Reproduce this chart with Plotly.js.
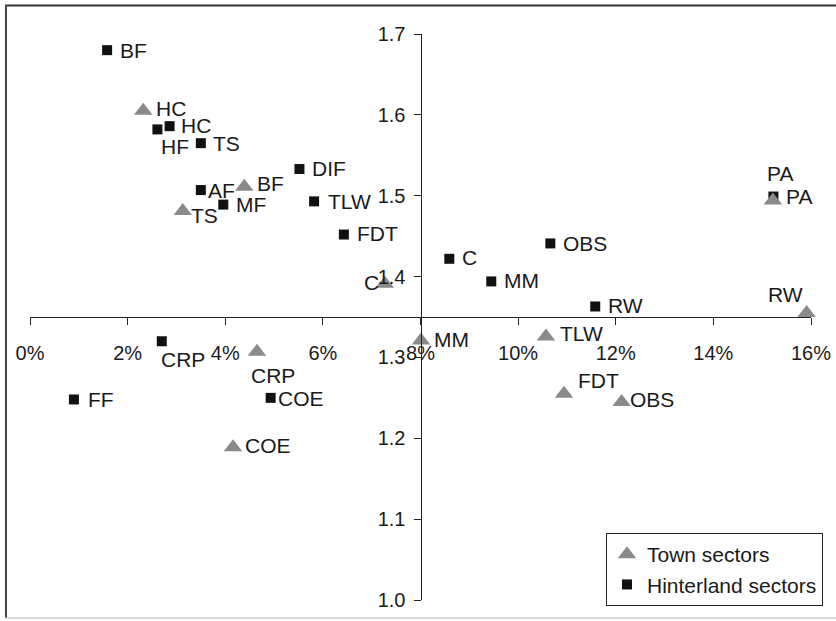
<!DOCTYPE html>
<html><head><meta charset="utf-8">
<script src="https://cdn.plot.ly/plotly-3.0.1.min.js"></script>
<style>html,body{margin:0;padding:0;background:#fff;} #chart{width:836px;height:621px;}</style>
</head><body><div id="chart"></div>
<script>
// ---- data ----
const hinterlandLabels = ['BF','HC','HF','TS','DIF','AF','MF','TLW','FDT','C','MM','OBS','RW','PA','CRP','FF','COE'];
const hinterlandShare  = [1.58, 2.86, 2.61, 3.50, 5.52, 3.50, 3.96, 5.82, 6.43, 8.59, 9.45, 10.66, 11.58, 15.23, 2.70, 0.90, 4.93];
const hinterlandRatio  = [1.680, 1.586, 1.582, 1.565, 1.533, 1.507, 1.489, 1.493, 1.452, 1.422, 1.394, 1.441, 1.363, 1.499, 1.320, 1.248, 1.250];

const townLabels = ['HC','BF','TS','C','PA','RW','CRP','MM','TLW','FDT','OBS','COE'];
const townShare  = [2.32, 4.39, 3.13, 7.27, 15.22, 15.91, 4.65, 8.01, 10.57, 10.94, 12.12, 4.16];
const townRatio  = [1.605, 1.511, 1.481, 1.391, 1.494, 1.355, 1.307, 1.321, 1.326, 1.255, 1.245, 1.189];

const xTickValues = [0, 2, 4, 6, 8, 10, 12, 14, 16];
const xTickLabels = ['0%','2%','4%','6%','8%','10%','12%','14%','16%'];
const yTickValues = [1.0, 1.1, 1.2, 1.3, 1.4, 1.5, 1.6, 1.7];
const yTickLabels = ['1.0','1.1','1.2','1.3','1.4','1.5','1.6','1.7'];

const seriesNames = ['Town sectors', 'Hinterland sectors'];

// ---- label placement (style): [anchor, dx px, dy px down] ----
const hinterlandLabelPlacement = [
  ['left',13,0],['left',11,-1],['left',4,17],['left',12,0],['left',13,-1],['left',7,0],
  ['left',13,0],['left',14,0],['left',13,-1],['left',13,-1],['left',13,-1],['left',13,0],
  ['left',13,-1],['left',13,0],['left',-1,18],['left',14,0],['left',7,1]
];
const townLabelPlacement = [
  ['left',13,0],['left',13,-1],['left',8,6],['right',-6,1],['center',7,-25],['right',-4,-16],
  ['left',-6,26],['left',13,1],['left',14,-1],['left',14,-11],['left',8,0],['left',12,0]
];

const FONT = '"Liberation Sans", Arial, Helvetica, sans-serif';
const TXT = '#1a1a1a';
const LABEL_SIZE = 21;
const TICK_SIZE = 20;

const hinterland = {
  type: 'scatter', mode: 'markers', name: seriesNames[1],
  x: hinterlandShare, y: hinterlandRatio, text: hinterlandLabels,
  marker: {symbol: 'square', size: 10, color: '#111111'},
  cliponaxis: false, hoverinfo: 'text+x+y'
};
const town = {
  type: 'scatter', mode: 'markers', name: seriesNames[0],
  x: townShare, y: townRatio, text: townLabels,
  marker: {symbol: 'triangle-up', size: 16, color: '#8a8a8a'},
  cliponaxis: false, hoverinfo: 'text+x+y'
};

function makeLabels(xs, ys, labels, placement, yCorr) {
  return labels.map((t, i) => ({
    x: xs[i], y: ys[i], xref: 'x', yref: 'y', text: t, showarrow: false,
    xanchor: placement[i][0], yanchor: 'middle',
    xshift: placement[i][1], yshift: yCorr - placement[i][2],
    borderpad: 0, borderwidth: 0,
    font: {family: FONT, size: LABEL_SIZE, color: TXT}
  }));
}

const annotations = []
  .concat(makeLabels(hinterlandShare, hinterlandRatio, hinterlandLabels, hinterlandLabelPlacement, 0))
  .concat(makeLabels(townShare, townRatio, townLabels, townLabelPlacement, 2));

const W = 836, H = 621, L = 30, R = 25, T = 34, B = 21;
const pw = W - L - R, ph = H - T - B;
const px = v => (v - L) / pw;
const py = v => (H - B - v) / ph;

const layout = {
  width: W, height: H,
  margin: {l: L, r: R, t: T, b: B, autoexpand: false},
  paper_bgcolor: '#ffffff', plot_bgcolor: '#ffffff',
  font: {family: FONT, size: TICK_SIZE, color: TXT},
  showlegend: true,
  legend: {
    x: px(823), y: py(533), xanchor: 'right', yanchor: 'top',
    bgcolor: '#ffffff', bordercolor: '#222222', borderwidth: 1,
    font: {family: FONT, size: LABEL_SIZE, color: TXT},
    traceorder: 'reversed', itemwidth: 30
  },
  xaxis: {
    range: [0, 16], anchor: 'free', position: 0.5,
    tickvals: xTickValues, ticktext: xTickLabels,
    showgrid: false, zeroline: false, showline: true, linecolor: '#222222', linewidth: 1,
    ticks: 'outside', ticklen: 7, tickwidth: 1, tickcolor: '#222222',
    ticklabelstandoff: 11, automargin: false,
    tickfont: {family: FONT, size: TICK_SIZE, color: TXT}
  },
  yaxis: {
    range: [1.0, 1.7], anchor: 'free', position: 0.5,
    tickvals: yTickValues, ticktext: yTickLabels,
    showgrid: false, zeroline: false, showline: true, linecolor: '#222222', linewidth: 1,
    ticks: 'outside', ticklen: 7, tickwidth: 1, tickcolor: '#222222',
    ticklabelstandoff: 4, automargin: false,
    tickfont: {family: FONT, size: TICK_SIZE, color: TXT}
  },
  annotations: annotations,
  shapes: [
    {type: 'line', xref: 'paper', yref: 'paper', x0: px(5), x1: px(840), y0: py(5.5), y1: py(5.5), line: {color: '#333333', width: 2}, layer: 'below'},
    {type: 'line', xref: 'paper', yref: 'paper', x0: px(6), x1: px(6), y0: py(5), y1: py(618), line: {color: '#444444', width: 2}, layer: 'below'},
    {type: 'line', xref: 'paper', yref: 'paper', x0: px(5), x1: px(840), y0: py(618), y1: py(618), line: {color: '#cccccc', width: 1.5}, layer: 'below'}
  ]
};

Plotly.newPlot('chart', [hinterland, town], layout, {displayModeBar: false, staticPlot: true});
</script>
</body></html>
